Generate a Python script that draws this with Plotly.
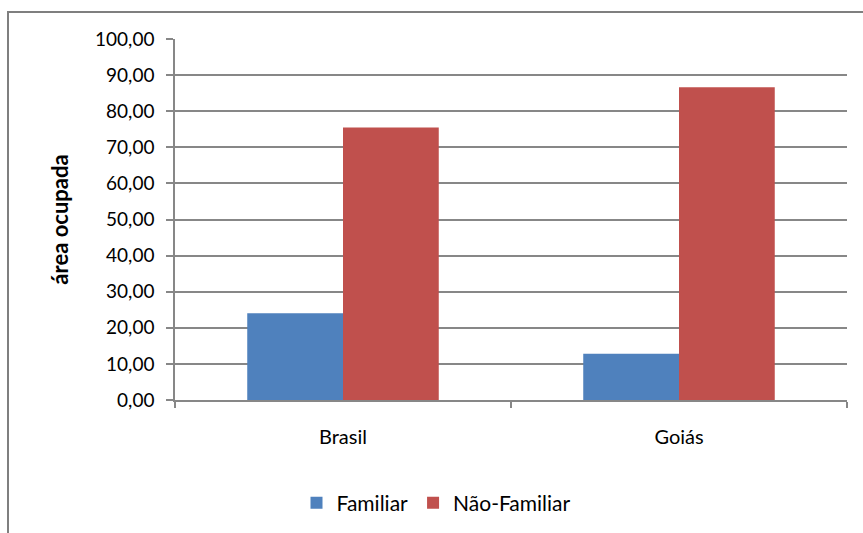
import plotly.graph_objects as go

# Share of occupied area by farm type
categories = ["Brasil", "Goiás"]
familiar = [24.0, 12.8]
nao_familiar = [75.5, 86.6]
series_names = ["Familiar", "Não-Familiar"]

W, H = 863, 533
ML, MR, MT, MB = 175, 16, 39, 133
PW, PH = W - ML - MR, H - MT - MB

FONT = "Lato"
GRID = "#878787"

fig = go.Figure()
fig.add_trace(go.Bar(x=categories, y=familiar, name=series_names[0],
                     marker=dict(color="#4F81BD", line=dict(width=0))))
fig.add_trace(go.Bar(x=categories, y=nao_familiar, name=series_names[1],
                     marker=dict(color="#C0504D", line=dict(width=0))))


def px_x(p):
    return (p - ML) / PW


def px_y(p):
    return (H - MB - p) / PH


fig.update_layout(
    width=W, height=H,
    margin=dict(l=ML, r=MR, t=MT, b=MB, autoexpand=False),
    paper_bgcolor="white", plot_bgcolor="white",
    barmode="group", bargap=0.43, bargroupgap=0,
    separators=",.",
    font=dict(family=FONT, size=19, color="#000000"),
    showlegend=True,
    legend=dict(orientation="h", x=px_x(436), xanchor="center", y=px_y(503), yanchor="middle",
                font=dict(family=FONT, size=21), itemwidth=30, traceorder="normal",
                bgcolor="rgba(0,0,0,0)"),
    xaxis=dict(type="category", tickson="boundaries", ticks="outside", ticklen=6,
               tickcolor=GRID, tickwidth=1.5, showline=True, linecolor=GRID, linewidth=1.5,
               showgrid=False, tickfont=dict(family=FONT, size=20), ticklabelstandoff=18),
    yaxis=dict(range=[0, 100], dtick=10, tickformat=".2f", ticks="outside", ticklen=7,
               tickcolor=GRID, tickwidth=1.5, showline=True, linecolor=GRID, linewidth=1.5,
               showgrid=True, gridcolor=GRID, gridwidth=1.5, zeroline=False,
               tickfont=dict(family=FONT, size=19), ticklabelstandoff=8,
               title=dict(text="<b>área ocupada</b>", font=dict(family=FONT, size=22),
                          standoff=20)),
    shapes=[dict(type="rect", xref="paper", yref="paper",
                 x0=px_x(8), x1=px_x(W + 20), y0=px_y(H + 20), y1=px_y(12),
                 line=dict(color="#7f7f7f", width=2), layer="below")],
)

fig.write_html("out.html")
